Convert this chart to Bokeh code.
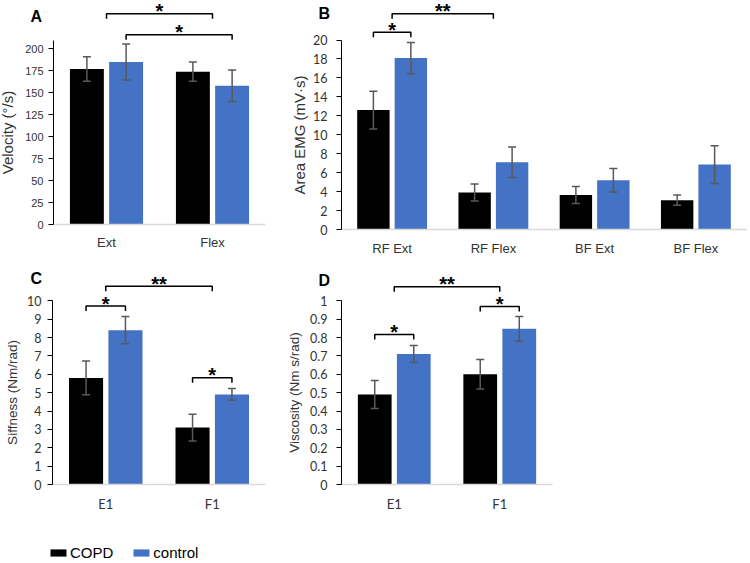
import numpy as np
from bokeh.plotting import figure
from bokeh.models import (ColumnDataSource, Whisker, TeeHead, FixedTicker, Label,
                          Legend, LegendItem, NumeralTickFormatter, Range1d)
from bokeh.layouts import column, row
from bokeh.embed import file_html
from bokeh.resources import INLINE

# ---------------- data ----------------
series = ["COPD", "control"]
colors = ["#000000", "#4472C4"]

a_cats = ["Ext", "Flex"]
a_copd = [177, 174]
a_copd_err = [14, 11]
a_ctrl = [185, 158]
a_ctrl_err = [20.5, 18]
a_ticks = [0, 25, 50, 75, 100, 125, 150, 175, 200]

b_cats = ["RF Ext", "RF Flex", "BF Ext", "BF Flex"]
b_copd = [12.6, 3.9, 3.65, 3.1]
b_copd_err = [2.0, 0.9, 0.9, 0.55]
b_ctrl = [18.1, 7.1, 5.2, 6.85]
b_ctrl_err = [1.65, 1.6, 1.25, 2.0]
b_ticks = [0, 2, 4, 6, 8, 10, 12, 14, 16, 18, 20]

c_cats = ["E1", "F1"]
c_copd = [5.8, 3.1]
c_copd_err = [0.92, 0.73]
c_ctrl = [8.4, 4.9]
c_ctrl_err = [0.74, 0.32]
c_ticks = [0, 1, 2, 3, 4, 5, 6, 7, 8, 9, 10]

d_cats = ["E1", "F1"]
d_copd = [0.49, 0.60]
d_copd_err = [0.076, 0.08]
d_ctrl = [0.71, 0.847]
d_ctrl_err = [0.046, 0.068]
d_ticks = [0, 0.1, 0.2, 0.3, 0.4, 0.5, 0.6, 0.7, 0.8, 0.9, 1.0]

# significance brackets: (cat_from, side_from, cat_to, side_to, level, text)
# side: -1 = COPD bar, 0 = group centre, +1 = control bar
a_sig = [(0, 0, 1, 0, 240, "*"), (0, 1, 1, 1, 216, "*")]
b_sig = [(0, -1, 0, 1, 20.82, "*"), (0, 0, 1, 0, 22.77, "**")]
c_sig = [(0, -1, 0, 1, 9.71, "*"), (0, 0, 1, 0, 10.79, "**"), (1, -1, 1, 1, 5.81, "*")]
d_sig = [(0, -1, 0, 1, 0.817, "*"), (0, 0, 1, 0, 1.076, "**"), (1, -1, 1, 1, 0.969, "*")]

BAR_W = 0.32
OFF = 0.185
ERR_COLOR = "#595959"
TXT = "#333333"


def make_panel(cats, copd, copd_err, ctrl, ctrl_err, ticks, sig, *, lead, plot_w, right,
               height, bottom_px, y_end, y_bound, ylabel, letter, letter_px,
               tick_font, tick_size, tick_standoff, cat_font, cat_size, cat_standoff,
               title_size, title_standoff, formatter=None):
    n = len(cats)
    cat_px = plot_w / n
    px = y_end / (height - bottom_px)       # data units per vertical screen pixel
    p = figure(width=lead + plot_w + right, height=height,
               x_range=Range1d(-lead / cat_px, n + right / cat_px),
               y_range=Range1d(-bottom_px * px, y_end),
               min_border=0, toolbar_location=None, output_backend="svg")
    p.outline_line_color = None
    p.xgrid.visible = False
    p.ygrid.visible = False

    centers = np.arange(n) + 0.5
    for vals, errs, col, off in ((copd, copd_err, colors[0], -OFF), (ctrl, ctrl_err, colors[1], OFF)):
        v = np.asarray(vals, dtype=float)
        e = np.asarray(errs, dtype=float)
        src = ColumnDataSource(dict(x=centers + off, top=v, upper=v + e, lower=v - e))
        p.vbar(x="x", top="top", bottom=0, width=BAR_W, source=src, fill_color=col, line_color=None)
        w = Whisker(source=src, base="x", upper="upper", lower="lower",
                    line_color=ERR_COLOR, line_width=1.5, level="annotation",
                    upper_head=TeeHead(size=8, line_color=ERR_COLOR, line_width=1.5),
                    lower_head=TeeHead(size=8, line_color=ERR_COLOR, line_width=1.5))
        p.add_layout(w)

    # y axis, drawn at x = 0 inside the frame
    ya = p.yaxis[0]
    ya.fixed_location = 0
    ya.ticker = FixedTicker(ticks=ticks, minor_ticks=[])
    ya.bounds = (0, y_bound)
    ya.axis_line_color = "black"
    ya.axis_line_width = 1
    ya.major_tick_line_color = "black"
    ya.major_tick_out = 5
    ya.major_tick_in = 0
    ya.minor_tick_line_color = None
    ya.major_label_text_font = tick_font
    ya.major_label_text_font_size = tick_size
    ya.major_label_text_color = TXT
    ya.major_label_standoff = tick_standoff
    if formatter is not None:
        ya.formatter = formatter
    ya.axis_label = ylabel
    ya.axis_label_text_font = "Liberation Sans"
    ya.axis_label_text_font_style = "normal"
    ya.axis_label_text_font_size = title_size
    ya.axis_label_text_color = TXT
    ya.axis_label_standoff = title_standoff

    # x axis, drawn at y = 0 inside the frame
    xa = p.xaxis[0]
    xa.fixed_location = 0
    xa.bounds = (0, n)
    xa.ticker = FixedTicker(ticks=[float(c) for c in centers], minor_ticks=[])
    xa.major_label_overrides = {float(c): lab for c, lab in zip(centers, cats)}
    xa.axis_line_color = "#d9d9d9"
    xa.axis_line_width = 1.5
    xa.major_tick_line_color = None
    xa.major_tick_out = 0
    xa.major_tick_in = 0
    xa.minor_tick_line_color = None
    xa.major_label_text_font = cat_font
    xa.major_label_text_font_size = cat_size
    xa.major_label_text_color = TXT
    xa.major_label_standoff = cat_standoff

    # significance brackets
    drop = 5.0 * px
    xs, ys = [], []
    for c0, s0, c1, s1, lvl, txt in sig:
        x0 = c0 + 0.5 + s0 * OFF
        x1 = c1 + 0.5 + s1 * OFF
        xs.append([x0, x0, x1, x1])
        ys.append([lvl - drop, lvl, lvl, lvl - drop])
        p.add_layout(Label(x=(x0 + x1) / 2, y=lvl + 2.5 * px, text=txt, text_align="center",
                           text_baseline="middle",
                           text_font="Liberation Sans", text_font_style="bold",
                           text_font_size="20px", text_color="black"))
    p.multi_line(xs=xs, ys=ys, line_color="black", line_width=1.5)

    # panel letter, in screen pixels from the figure's left / top edge
    p.add_layout(Label(x=letter_px[0], y=height - letter_px[1], x_units="screen",
                       y_units="screen", text=letter, text_font="Liberation Sans",
                       text_font_style="bold", text_font_size="16px", text_color="black",
                       text_baseline="middle", text_align="left"))
    return p


pA = make_panel(a_cats, a_copd, a_copd_err, a_ctrl, a_ctrl_err, a_ticks, a_sig,
                lead=53, plot_w=212, right=23, height=258, bottom_px=34,
                y_end=255.0, y_bound=209.5, ylabel="Velocity (°/s)", letter="A",
                letter_px=(30, 16), tick_font="Liberation Sans", tick_size="11px",
                tick_standoff=5, cat_font="Liberation Sans", cat_size="13px", cat_standoff=10,
                title_size="15px", title_standoff=6)

pB = make_panel(b_cats, b_copd, b_copd_err, b_ctrl, b_ctrl_err, b_ticks, b_sig,
                lead=53, plot_w=405, right=4, height=258, bottom_px=29,
                y_end=24.17, y_bound=20, ylabel="Area EMG (mV·s)", letter="B",
                letter_px=(30, 13), tick_font="Lato", tick_size="12.5px",
                tick_standoff=9, cat_font="Liberation Sans", cat_size="13px", cat_standoff=11,
                title_size="15px", title_standoff=2)

pC = make_panel(c_cats, c_copd, c_copd_err, c_ctrl, c_ctrl_err, c_ticks, c_sig,
                lead=52, plot_w=213, right=20, height=254, bottom_px=28,
                y_end=12.30, y_bound=10, ylabel="Siffness (Nm/rad)", letter="C",
                letter_px=(30, 19.5), tick_font="Lato", tick_size="12.5px",
                tick_standoff=6, cat_font="Lato", cat_size="13px", cat_standoff=11,
                title_size="13.5px", title_standoff=4)

pD = make_panel(d_cats, d_copd, d_copd_err, d_ctrl, d_ctrl_err, d_ticks, d_sig,
                lead=56, plot_w=211, right=198, height=254, bottom_px=28,
                y_end=1.230, y_bound=1.0, ylabel="Viscosity (Nm s/rad)", letter="D",
                letter_px=(33, 22), tick_font="Lato", tick_size="12.5px",
                tick_standoff=9, cat_font="Lato", cat_size="13px", cat_standoff=11,
                title_size="13.5px", title_standoff=5,
                formatter=NumeralTickFormatter(format="0.[0]"))

# legend strip (proxy renderers of zero height carry the swatch colours)
pL = figure(width=750, height=51, x_range=Range1d(0, 1), y_range=Range1d(0, 1),
            min_border=0, toolbar_location=None, output_backend="svg")
pL.axis.visible = False
pL.xgrid.visible = False
pL.ygrid.visible = False
pL.outline_line_color = None
items = []
for name, col in zip(series, colors):
    proxy = ColumnDataSource(dict(x=[0.0], top=[0.0]))
    r = pL.vbar(x="x", top="top", width=0.0, source=proxy, fill_color=col, line_color=None)
    items.append(LegendItem(label=name, renderers=[r]))
leg = Legend(items=items, orientation="horizontal", location=(48, 2),
             glyph_width=20, glyph_height=9, label_standoff=2, spacing=18,
             padding=0, margin=0, border_line_color=None, background_fill_alpha=0,
             label_text_font="Liberation Sans", label_text_font_size="15px",
             label_text_color="black")
pL.add_layout(leg)

layout = column(row(pA, pB), row(pC, pD), pL)

with open("out.html", "w") as f:
    f.write(file_html(layout, INLINE))
